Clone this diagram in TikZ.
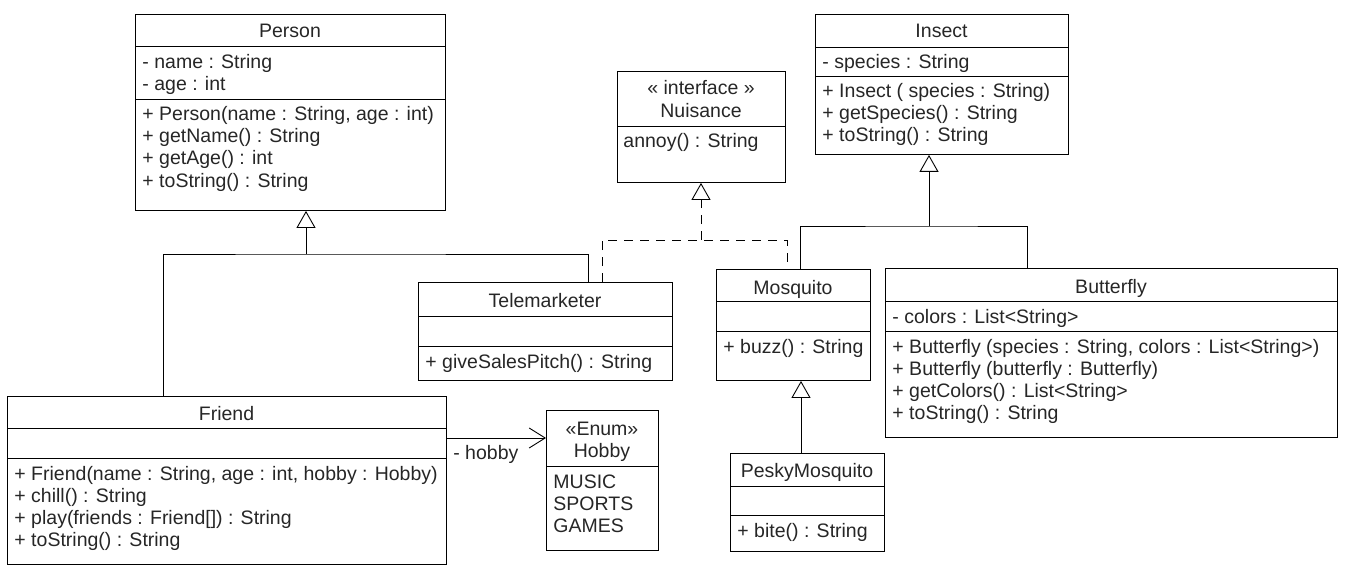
\documentclass[tikz,border=0pt]{standalone}
\usepackage{fontspec}
\setmainfont{Liberation Sans}
\usetikzlibrary{arrows.meta,positioning}

\begin{document}
\begin{tikzpicture}[x=1pt,y=-1pt,line width=0.9pt,
  every node/.style={font=\fontsize{19.5}{22}\selectfont, text=black!85},
  cls/.style={draw, anchor=north west, inner sep=0pt},
  ttl/.style={anchor=base, inner sep=0pt},
  txt/.style={anchor=base west, inner sep=0pt},
  gen/.style={-{Triangle[open,length=17pt,width=19pt]}},
  real/.style={gen, dash pattern=on 9pt off 7pt},
  assoc/.style={-{Straight Barb[length=16pt,width=20pt]}}]
\useasboundingbox (0,0) rectangle (1350,575);

% Person
\node[cls, minimum width=310pt, minimum height=196pt] (person) at (135,14) {};
\draw (135,46) -- (445,46) (135,99) -- (445,99);
\node[ttl] (personT) at (290,38) {Person};
\foreach \t [count=\i] in {- name : String, - age : int}
  \node[txt] (pa\i) at (142,47+22*\i) {\t};
\foreach \t [count=\i] in {{+ Person(name : String, age : int)}, + getName() : String, + getAge() : int, + toString() : String}
  \node[txt] (pm\i) at (142,99+22*\i) {\t};

% Insect
\node[cls, minimum width=253pt, minimum height=140pt] (insect) at (815,14) {};
\draw (815,47) -- (1068,47) (815,76) -- (1068,76);
\node[ttl] (insectT) at (941.5,38) {Insect};
\node[txt] (ia1) at (822,69) {- species : String};
\foreach \t [count=\i] in {+ Insect ( species : String), + getSpecies() : String, + toString() : String}
  \node[txt] (im\i) at (822,76+22*\i) {\t};

% Nuisance
\node[cls, minimum width=168pt, minimum height=111pt] (nuis) at (617,71) {};
\draw (617,126) -- (785,126);
\node[ttl] (nuisS) at (701,95) {« interface »};
\node[ttl] (nuisT) at (701,118) {Nuisance};
\node[txt] (nm1) at (623,148) {annoy() : String};

% Telemarketer
\node[cls, minimum width=254pt, minimum height=98pt] (tele) at (418,282) {};
\draw (418,316) -- (672,316) (418,346) -- (672,346);
\node[ttl] (teleT) at (545,307) {Telemarketer};
\node[txt] (tm1) at (425,368) {+ giveSalesPitch() : String};

% Mosquito
\node[cls, minimum width=154pt, minimum height=111pt] (mosq) at (716,269) {};
\draw (716,301) -- (870,301) (716,331) -- (870,331);
\node[ttl] (mosqT) at (793,294) {Mosquito};
\node[txt] (mm1) at (723,353) {+ buzz() : String};

% Butterfly
\node[cls, minimum width=452pt, minimum height=169pt] (butter) at (885,268) {};
\draw (885,301) -- (1337,301) (885,331) -- (1337,331);
\node[ttl] (butterT) at (1111,293) {Butterfly};
\node[txt] (ba1) at (892,323) {- colors : List<String>};
\foreach \t [count=\i] in {{+ Butterfly (species : String, colors : List<String>)}, + Butterfly (butterfly : Butterfly), + getColors() : List<String>, + toString() : String}
  \node[txt] (bm\i) at (892,331+22*\i) {\t};

% Friend
\node[cls, minimum width=439pt, minimum height=168pt] (friend) at (7,396) {};
\draw (7,428) -- (446,428) (7,458) -- (446,458);
\node[ttl] (friendT) at (226.5,420) {Friend};
\foreach \t [count=\i] in {{+ Friend(name : String, age : int, hobby : Hobby)}, + chill() : String, + play(friends : Friend[]) : String, + toString() : String}
  \node[txt] (fm\i) at (14,458+22*\i) {\t};

% Hobby
\node[cls, minimum width=112pt, minimum height=140pt] (hobby) at (546,410) {};
\draw (546,466) -- (658,466);
\node[ttl] (hobbyS) at (602,435) {«Enum»};
\node[ttl] (hobbyT) at (602,457) {Hobby};
\foreach \t [count=\i] in {MUSIC, SPORTS, GAMES}
  \node[txt] (hv\i) at (553,466+22*\i) {\t};

% PeskyMosquito
\node[cls, minimum width=154pt, minimum height=98pt] (pesky) at (730,453) {};
\draw (730,486) -- (884,486) (730,515) -- (884,515);
\node[ttl] (peskyT) at (807,477) {PeskyMosquito};
\node[txt] (km1) at (737,537) {+ bite() : String};

% connectors
\coordinate (pj) at (306,254);
\coordinate (nj) at (701,240);
\coordinate (ij) at (929,226);
\coordinate (pk) at ([xshift=71pt]pesky.north west);
\coordinate (fa) at ([yshift=-42pt]friend.north east);

\draw[gen] (pj) -- (person.south -| pj);
\draw ([xshift=156pt]friend.north west) |- (pj) -| ([xshift=170pt]tele.north west);

\draw[real] (nj) -- (nuis.south -| nj);
\draw[dash pattern=on 9pt off 7pt] ([xshift=184pt]tele.north west) |- (nj) -| ([xshift=71pt]mosq.north west);

\draw[gen] (ij) -- (insect.south -| ij);
\draw ([xshift=84pt]mosq.north west) |- (ij) -| ([xshift=142pt]butter.north west);

\draw[gen] (pk) -- (pk |- mosq.south);

\draw[assoc] (fa) -- (fa -| hobby.west)
  node[pos=0, anchor=north west, xshift=6pt, yshift=-7pt, inner sep=0pt] (hobbyL) {- hobby};
\end{tikzpicture}
\end{document}
